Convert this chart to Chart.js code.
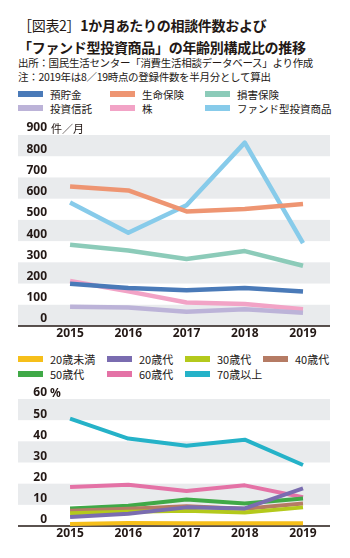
<!DOCTYPE html>
<html lang="ja">
<head>
<meta charset="utf-8">
<script src="https://cdn.jsdelivr.net/npm/chart.js@4.4.1/dist/chart.umd.min.js"></script>
<style>
    body {
        margin: 0;
        width: 350px;
        height: 558px;
        position: relative;
        overflow: hidden;
        background: #fff;
        color: #231815;
        font-family: "Noto Sans CJK JP", "Noto Sans", sans-serif;
    }
    .title {
        position: absolute;
        left: 18px;
        font-weight: bold;
        font-size: 14px;
        letter-spacing: -0.3px;
        white-space: nowrap;
        line-height: 18px;
    }
    .title span { font-weight: normal; }
    .note {
        position: absolute;
        left: 18px;
        font-size: 10.5px;
        letter-spacing: -0.3px;
        line-height: 13px;
        white-space: nowrap;
    }
    .unit {
        position: absolute;
        left: 50px;
        line-height: 14px;
        white-space: nowrap;
        z-index: 2;
    }
    .legend {
        position: absolute;
        left: 18px;
        display: grid;
        white-space: nowrap;
    }
    .legend div {
        display: flex;
        align-items: center;
    }
    .legend i {
        display: inline-block;
        width: 25px;
        height: 6px;
        margin-right: 7px;
    }
    .chart-box {
        position: absolute;
        left: 0;
        width: 350px;
    }
</style>
</head>
<body>
<div class="title" style="top:16px"><span>［図表2］</span>1か月あたりの相談件数および</div>
<div class="title" style="top:38px">「ファンド型投資商品」の年齢別構成比の推移</div>
<div class="note" style="top:56px">出所：国民生活センター「消費生活相談データベース」より作成</div>
<div class="note" style="top:70px">注：2019年は8／19時点の登録件数を半月分として算出</div>

<div id="legend-types" class="legend" style="top:87px; grid-template-columns: 92px 95px auto; grid-auto-rows: 14px; font-size: 10.5px;"></div>
<div class="chart-box" style="top:118px; height:226px;"><canvas id="canvas-types"></canvas></div>
<div class="unit" style="top:121px; left:51px; font-size:11px;">件／月</div>

<div id="legend-ages" class="legend" style="top:351px; grid-template-columns: 89px 78px 78px auto; grid-auto-rows: 15px; font-size: 11px;"></div>
<div class="chart-box" style="top:379px; height:166px;"><canvas id="canvas-ages"></canvas></div>
<div class="unit" style="top:386px; font-size:12px; font-weight:bold; font-family:'Noto Sans', sans-serif;">%</div>

<script>
// years on the x axis
var years = [2015, 2016, 2017, 2018, 2019];

// monthly consultations by product type (件／月)
var typeNames = ['預貯金', '生命保険', '損害保険', '投資信託', '株', 'ファンド型投資商品'];
var typeColors = ['#4a7ab8', '#ee9572', '#8ccbb9', '#bcb3d8', '#f2a3c6', '#87cbea'];
var deposits = [199, 179, 168, 179, 162];
var lifeInsurance = [657, 639, 540, 551, 575];
var nonLifeInsurance = [383, 356, 316, 353, 284];
var investTrusts = [91, 87, 67, 79, 62];
var stocks = [212, 163, 111, 104, 79];
var fundProducts = [582, 439, 569, 864, 391];
var countTicks = [0, 100, 200, 300, 400, 500, 600, 700, 800, 900];

// age breakdown of fund-type product consultations (%)
var ageNames = ['20歳未満', '20歳代', '30歳代', '40歳代', '50歳代', '60歳代', '70歳以上'];
var ageColors = ['#f6bf1a', '#7a6cb0', '#b4c91c', '#b57b64', '#40a947', '#e472a6', '#25b2c8'];
var under20 = [1.0, 1.4, 1.3, 1.3, 1.3];
var age20s = [4.3, 5.8, 8.8, 8.3, 17.8];
var age30s = [6.0, 6.7, 7.2, 6.4, 8.8];
var age40s = [7.2, 8.2, 9.3, 8.2, 10.6];
var age50s = [8.3, 9.6, 12.5, 10.6, 13.0];
var age60s = [18.4, 19.5, 16.5, 19.2, 13.6];
var age70plus = [50.7, 41.3, 37.9, 40.8, 28.8];
var percentTicks = [0, 10, 20, 30, 40, 50, 60];

var tickFont = { family: '"Noto Sans", sans-serif', size: 12, weight: 'bold' };

// plugin: gray bands behind the plot and the base line
var bandPlugin = {
    id: 'bands',
    beforeDraw: function(chart, args, opts) {
        var ctx = chart.ctx;
        var y = chart.scales.y;
        var ticks = y.ticks;
        ctx.save();
        ctx.fillStyle = '#e9ebed';
        for (var i = ticks.length - 1; i > 0; i -= 2) {
            var top = y.getPixelForValue(ticks[i].value);
            var bottom = y.getPixelForValue(ticks[i - 1].value);
            ctx.fillRect(opts.left, top, chart.chartArea.right - opts.left, bottom - top);
        }
        ctx.restore();
    },
    beforeDatasetsDraw: function(chart, args, opts) {
        var ctx = chart.ctx;
        var bottom = chart.chartArea.bottom;
        ctx.save();
        ctx.strokeStyle = '#231815';
        ctx.lineWidth = 1.5;
        ctx.beginPath();
        ctx.moveTo(opts.left, bottom);
        ctx.lineTo(chart.chartArea.right, bottom);
        ctx.stroke();
        ctx.restore();
    }
};

// build an html legend from the chart datasets
function printLegend(id, chart) {
    var box = document.getElementById(id);
    chart.data.datasets.forEach(function(ds) {
        var item = document.createElement('div');
        var swatch = document.createElement('i');
        swatch.style.background = ds.borderColor;
        item.appendChild(swatch);
        item.appendChild(document.createTextNode(ds.label));
        box.appendChild(item);
    });
}

function makeDatasets(names, colors, series, width) {
    return series.map(function(values, i) {
        return {
            label: names[i],
            data: values.map(function(v, j) { return { x: years[j], y: v }; }),
            borderColor: colors[i],
            backgroundColor: colors[i],
            borderWidth: width,
            pointRadius: 0,
            borderJoinStyle: 'round',
            tension: 0
        };
    });
}

function printLineChart(canvasId, datasets, yTicks, opts) {
    var ctx = document.getElementById(canvasId).getContext('2d');
    return new Chart(ctx, {
        type: 'line',
        data: { datasets: datasets },
        plugins: [bandPlugin],
        options: {
            responsive: true,
            maintainAspectRatio: false,
            animation: false,
            layout: { padding: { top: opts.padTop, right: 20, bottom: opts.padBottom, left: 0 } },
            plugins: {
                legend: { display: false },
                tooltip: { enabled: false },
                bands: { left: 18 }
            },
            scales: {
                x: {
                    type: 'linear',
                    min: 2014.69,
                    max: 2019.4635,
                    afterBuildTicks: function(scale) {
                        scale.ticks = years.map(function(v) { return { value: v }; });
                    },
                    ticks: {
                        color: '#231815',
                        font: tickFont,
                        padding: 0,
                        maxRotation: 0,
                        callback: function(v) { return String(v); }
                    },
                    grid: { display: false, drawTicks: false },
                    border: { display: false }
                },
                y: {
                    min: yTicks[0],
                    max: yTicks[yTicks.length - 1],
                    afterBuildTicks: function(scale) {
                        scale.ticks = yTicks.map(function(v) { return { value: v }; });
                    },
                    afterFit: function(scale) { scale.width = 52; },
                    ticks: {
                        color: '#231815',
                        font: tickFont,
                        padding: 5,
                        labelOffset: opts.labelOffset
                    },
                    grid: { display: false, drawTicks: false },
                    border: { display: false }
                }
            }
        }
    });
}

var typeChart = printLineChart('canvas-types',
    makeDatasets(typeNames, typeColors, [deposits, lifeInsurance, nonLifeInsurance, investTrusts, stocks, fundProducts], 4.5),
    countTicks,
    { padTop: 17, padBottom: 3.6, labelOffset: -7 });
printLegend('legend-types', typeChart);

var ageChart = printLineChart('canvas-ages',
    makeDatasets(ageNames, ageColors, [under20, age20s, age30s, age40s, age50s, age60s, age70plus], 4),
    percentTicks,
    { padTop: 20, padBottom: 4.6, labelOffset: -6 });
printLegend('legend-ages', ageChart);
</script>
</body>
</html>
